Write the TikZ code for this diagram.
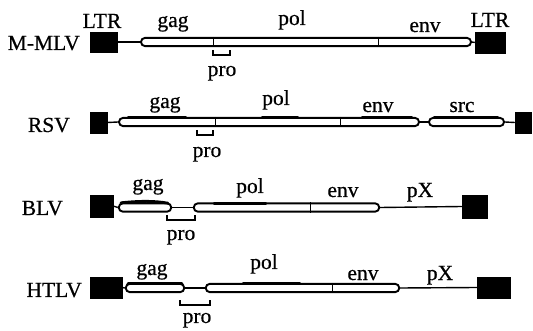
\documentclass[tikz,border=0pt]{standalone}
\usepackage{fontspec}
\setmainfont[FakeBold=0.6]{Liberation Serif}
\begin{document}
\begin{tikzpicture}[x=1pt,y=-1pt,
 ltr/.style={fill=black,draw=black,inner sep=0pt,line width=0.5pt},
 gbar/.style={draw=black,fill=white,line width=1.9pt,rounded corners=4pt,inner sep=0pt,minimum height=8.2pt},
 lnk/.style={line width=1.4pt},
 divl/.style={line width=1pt},
 lab/.style={font=\fontsize{21.5}{23}\selectfont,inner sep=0pt,anchor=base},
 vname/.style={lab,anchor=base east},
 brk/.style={line width=1.6pt},
 topline/.style={line width=2.8pt,line cap=round}]
\useasboundingbox (0,0) rectangle (533,331);

% ---------- M-MLV ----------
\node[vname] (n1) at (80,50) {M-MLV};
\node[ltr,minimum width=27pt,minimum height=20pt] (l1) at (103.5,42) {};
\node[gbar,minimum width=330pt] (b1) at (306,42) {};
\node[ltr,minimum width=30pt,minimum height=21pt] (r1) at (490,42.5) {};
\draw[lnk] (l1.east) -- (b1.west);
\draw[lnk] (b1.east) -- (r1.west);
\draw[divl] (213,0 |- b1.north) -- (213,0 |- b1.south);
\draw[divl] (378,0 |- b1.north) -- (378,0 |- b1.south);
\node[lab] (t1a) at (102,28) {LTR};
\node[lab] (t1b) at (173,27) {gag};
\node[lab] (t1c) at (292,25) {pol};
\node[lab] (t1d) at (425,32) {env};
\node[lab] (t1e) at (490,27) {LTR};
\draw[brk] (213,50) -- (213,55) -- (230,55) -- (230,50);
\node[lab] (p1) at (222,76) {pro};

% ---------- RSV ----------
\node[vname] (n2) at (70,132) {RSV};
\node[ltr,minimum width=17pt,minimum height=21pt] (l2) at (98.5,122.5) {};
\node[gbar,minimum width=300pt] (b2) at (269,122) {};
\node[gbar,minimum width=75pt] (s2) at (466.5,122) {};
\node[ltr,minimum width=16pt,minimum height=21pt] (r2) at (523,122.5) {};
\draw[lnk] (l2.east) -- (b2.west);
\draw[lnk] (b2.east) -- (s2.west);
\draw[lnk] (s2.east) -- (r2.west);
\draw[divl] (215,0 |- b2.north) -- (215,0 |- b2.south);
\draw[divl] (340,0 |- b2.north) -- (340,0 |- b2.south);
\draw[topline] (128,117.6) -- (186,117.6);
\draw[topline] (262,117.6) -- (298,117.6);
\draw[topline] (362,117.6) -- (412,117.6);
\draw[topline] (434,117.6) -- (498,117.6);
\node[lab] (t2b) at (165,108) {gag};
\node[lab] (t2c) at (276,105) {pol};
\node[lab] (t2d) at (378,112) {env};
\node[lab] (t2e) at (462,112) {src};
\draw[brk] (197,130) -- (197,135) -- (213,135) -- (213,130);
\node[lab] (p2) at (207,157) {pro};

% ---------- BLV ----------
\node[vname] (n3) at (63,215) {BLV};
\node[ltr,minimum width=23pt,minimum height=22pt] (l3) at (101.5,206) {};
\node[gbar,minimum width=52.5pt] (g3) at (145,207.5) {};
\node[gbar,minimum width=185.5pt] (b3) at (286.5,207.5) {};
\node[ltr,minimum width=25pt,minimum height=23pt] (r3) at (474.5,206.5) {};
\draw[lnk] (l3.east) -- (g3.west);
\draw[lnk] (g3.east) -- (b3.west);
\draw[lnk] (b3.east) -- (r3.west);
\draw[divl] (310,0 |- b3.north) -- (310,0 |- b3.south);
\draw[topline] (121,202.8) .. controls (140,200.8) and (155,200.8) .. (168,203.2);
\draw[topline] (214,203.2) -- (266,203.2);
\node[lab] (t3b) at (148,190) {gag};
\node[lab] (t3c) at (250,193) {pol};
\node[lab] (t3d) at (343,197) {env};
\node[lab] (t3e) at (420,197) {pX};
\draw[brk] (167,215) -- (167,220) -- (195,220) -- (195,215);
\node[lab] (p3) at (181,240) {pro};

% ---------- HTLV ----------
\node[vname] (n4) at (82,297) {HTLV};
\node[ltr,minimum width=32pt,minimum height=21pt] (l4) at (106,287.5) {};
\node[gbar,minimum width=58.5pt] (g4) at (155,288) {};
\node[gbar,minimum width=193.5pt] (b4) at (302.5,288) {};
\node[ltr,minimum width=33pt,minimum height=21pt] (r4) at (493.5,287.5) {};
\draw[lnk] (l4.east) -- (g4.west);
\draw[lnk] (g4.east) -- (b4.west);
\draw[lnk] (b4.east) -- (r4.west);
\draw[divl] (332,0 |- b4.north) -- (332,0 |- b4.south);
\draw[topline] (128,283.6) -- (182,283.6);
\draw[topline] (243,283.6) -- (300,283.6);
\node[lab] (t4b) at (152,275) {gag};
\node[lab] (t4c) at (264,269) {pol};
\node[lab] (t4d) at (363,280) {env};
\node[lab] (t4e) at (440,280) {pX};
\draw[brk] (180,300) -- (180,305) -- (210,305) -- (210,300);
\node[lab] (p4) at (197,323) {pro};
\end{tikzpicture}
\end{document}
